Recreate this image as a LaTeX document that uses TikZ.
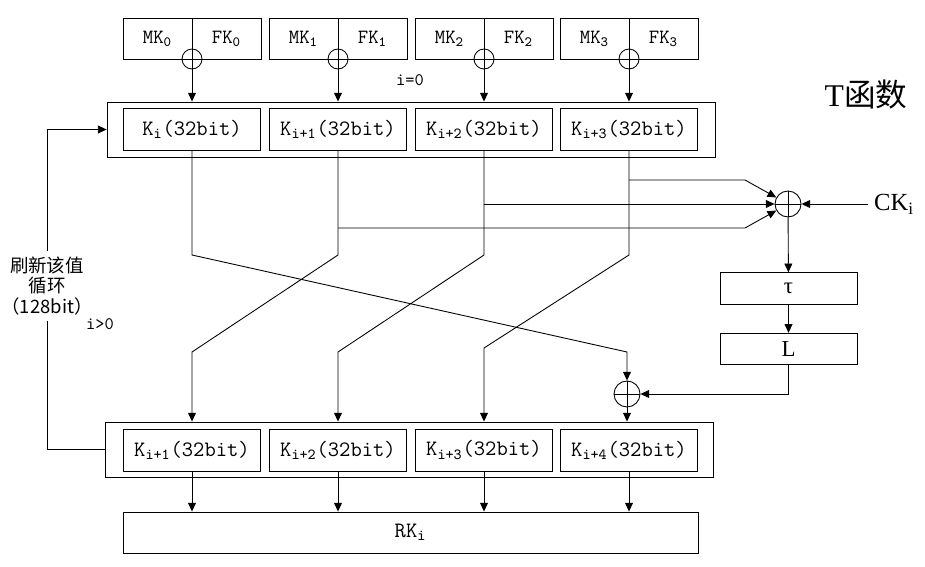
\documentclass[tikz,border=0pt]{standalone}
\usepackage{fontspec}
\setmainfont{Liberation Serif}
\newfontfamily\cjk{Noto Sans CJK SC}
\usetikzlibrary{arrows.meta}

\begin{document}
\begin{tikzpicture}[x=0.02cm,y=-0.02cm,line width=0.5pt,>={Triangle[length=5pt,width=4.5pt]},
  half/.style={draw,minimum width=1.38cm,minimum height=0.82cm,inner sep=0pt,font=\fontsize{11.5}{13}\ttfamily},
  kbox/.style={draw,minimum width=2.74cm,minimum height=0.84cm,inner sep=0pt,font=\fontsize{12.5}{15}\ttfamily},
  wide/.style={draw,minimum width=12.16cm,minimum height=1.1cm},
  stagebox/.style={draw,minimum width=2.74cm,minimum height=0.63cm,inner sep=0pt,font=\fontsize{13}{15}\selectfont},
  xorop/.style={draw,circle,inner sep=0pt,minimum size=#1,path picture={\draw (path picture bounding box.north)--(path picture bounding box.south) (path picture bounding box.west)--(path picture bounding box.east);}}]
\useasboundingbox (0,0) rectangle (925,567);
\node [half] (mk0) at (157.5,38.5) {MK\textsubscript{0}};
\node [half] (fk0) at (226.5,38.5) {FK\textsubscript{0}};
\node [half] (mk1) at (303.5,38.5) {MK\textsubscript{1}};
\node [half] (fk1) at (372.5,38.5) {FK\textsubscript{1}};
\node [half] (mk2) at (449.5,38.5) {MK\textsubscript{2}};
\node [half] (fk2) at (518.5,38.5) {FK\textsubscript{2}};
\node [half] (mk3) at (594.5,38.5) {MK\textsubscript{3}};
\node [half] (fk3) at (663.5,38.5) {FK\textsubscript{3}};
\node [xorop=0.4cm] (x0) at (192,59) {};
\node [xorop=0.4cm] (x1) at (338,59) {};
\node [xorop=0.4cm] (x2) at (484,59) {};
\node [xorop=0.4cm] (x3) at (629,59) {};
\node [font=\fontsize{10}{12}\ttfamily] (izero) at (410,80) {i=0};
\node [font=\fontsize{18}{20}\selectfont] (tfun) at (866,95) {T{\cjk 函数}};
\node [wide] (upbox) at (411,129.5) {};
\node [kbox] (ku0) at (192,129.5) {K\textsubscript{i}(32bit)};
\node [kbox] (ku1) at (338,129.5) {K\textsubscript{i+1}(32bit)};
\node [kbox] (ku2) at (484,129.5) {K\textsubscript{i+2}(32bit)};
\node [kbox] (ku3) at (629,129.5) {K\textsubscript{i+3}(32bit)};
\draw [->] (x0) -- (x0 |- upbox.north);
\draw [->] (x1) -- (x1 |- upbox.north);
\draw [->] (x2) -- (x2 |- upbox.north);
\draw [->] (x3) -- (x3 |- upbox.north);
\node [xorop=0.52cm] (x4) at (788,204) {};
\node [font=\fontsize{14}{16}\selectfont] (ck) at (894,204) {CK\textsubscript{i}};
\node [stagebox] (tau) at (788.5,288.5) {τ};
\node [stagebox] (lbox) at (788.5,349) {L};
\node [xorop=0.52cm] (x5) at (627,394) {};
\node [font=\fontsize{10.5}{11.5}\cjk,align=center] (note) at (47,286) {刷新该值\\循环\\（128bit）};
\node [font=\fontsize{10}{12}\ttfamily] (igt) at (100,324) {i>0};
\node [wide] (lowbox) at (409,449.5) {};
\node [kbox] (kl0) at (192,450) {K\textsubscript{i+1}(32bit)};
\node [kbox] (kl1) at (338,450) {K\textsubscript{i+2}(32bit)};
\node [kbox] (kl2) at (484,450) {K\textsubscript{i+3}(32bit)};
\node [kbox] (kl3) at (629,450) {K\textsubscript{i+4}(32bit)};
\node [draw,minimum width=11.5cm,minimum height=0.82cm,font=\fontsize{12.5}{15}\ttfamily] (rk) at (410.5,532.5) {RK\textsubscript{i}};
\coordinate (b3) at (629,180);
\coordinate (b2) at (484,204);
\coordinate (b1) at (338,228);
\draw [->] (ku0) -- (192,255) -- (627,352) -- (x5);
\draw [->] (ku1) -- (338,255) -- (192,352) -- (kl0 |- lowbox.north);
\draw [->] (ku2) -- (484,255) -- (338,352) -- (kl1 |- lowbox.north);
\draw [->] (ku3) -- (629,255) -- (484,348) -- (kl2 |- lowbox.north);
\draw [->] (b3) -- (745,180) -- (x4);
\draw [->] (b2) -- (x4);
\draw [->] (b1) -- (745,228) -- (x4);
\draw [->] (ck) -- (x4);
\draw [->] (x4) -- (tau);
\draw [->] (tau) -- (lbox);
\draw [->] (lbox) |- (x5);
\draw [->] (x5) -- (x5 |- lowbox.north);
\draw (lowbox.west) -| (note.south);
\draw [->] (note.north) |- (upbox.west);
\draw [->] (kl0) -- (kl0 |- rk.north);
\draw [->] (kl1) -- (kl1 |- rk.north);
\draw [->] (kl2) -- (kl2 |- rk.north);
\draw [->] (kl3) -- (kl3 |- rk.north);
\end{tikzpicture}
\end{document}
